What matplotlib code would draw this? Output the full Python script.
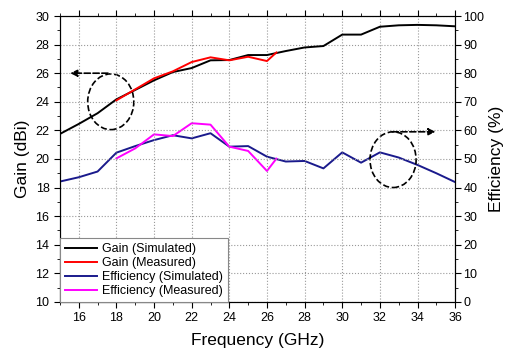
import matplotlib
matplotlib.use("Agg")
import matplotlib.pyplot as plt
from matplotlib.patches import Ellipse
from matplotlib.ticker import MultipleLocator

plt.rcParams['font.family'] = ['Liberation Sans', 'DejaVu Sans']

freq_sim = [15, 16, 17, 18, 19, 20, 21, 22, 23, 24, 25, 26, 27, 28, 29, 30, 31, 32, 33, 34, 35, 36]
gain_sim = [21.75, 22.45, 23.2, 24.17, 24.83, 25.5, 26.08, 26.36, 26.9, 26.92, 27.27, 27.27,
            27.55, 27.8, 27.9, 28.7, 28.7, 29.25, 29.35, 29.38, 29.35, 29.28]
eff_sim = [42.1, 43.6, 45.6, 52.2, 54.5, 56.6, 58.3, 57.2, 59.0, 54.3, 54.5, 50.8,
           49.1, 49.3, 46.7, 52.3, 48.7, 52.3, 50.5, 47.9, 45.0, 41.9]

freq_meas = [18, 19, 20, 21, 22, 23, 24, 25, 26, 26.5]
gain_meas = [24.1, 24.87, 25.64, 26.13, 26.78, 27.11, 26.9, 27.15, 26.85, 27.45]
eff_meas = [50.2, 53.7, 58.6, 58.0, 62.5, 62.0, 54.3, 52.8, 45.8, 50.1]

fig = plt.figure(figsize=(5.08, 3.56), dpi=100)
ax = fig.add_axes([0.118, 0.152, 0.778, 0.803])
ax2 = ax.twinx()

l1, = ax.plot(freq_sim, gain_sim, color='black', lw=1.4, label='Gain (Simulated)')
l2, = ax.plot(freq_meas, gain_meas, color='red', lw=1.4, label='Gain (Measured)')
l3, = ax2.plot(freq_sim, eff_sim, color='#1a1a8c', lw=1.4, label='Efficiency (Simulated)')
l4, = ax2.plot(freq_meas, eff_meas, color='#ff00ff', lw=1.4, label='Efficiency (Measured)')

ax.set_xlim(15, 36)
ax.set_ylim(10, 30)
ax2.set_ylim(0, 100)
ax.xaxis.set_major_locator(MultipleLocator(2))
ax.xaxis.set_minor_locator(MultipleLocator(1))
ax.yaxis.set_major_locator(MultipleLocator(2))
ax.yaxis.set_minor_locator(MultipleLocator(1))
ax2.yaxis.set_major_locator(MultipleLocator(10))
ax2.yaxis.set_minor_locator(MultipleLocator(5))

ax.grid(True, which='major', color='#999999', linestyle=':', lw=0.8)
ax.tick_params(axis='both', which='major', direction='out', length=4, labelsize=9, top=True)
ax.tick_params(axis='both', which='minor', direction='out', length=2.5, top=True)
ax.tick_params(axis='x', which='both', top=True)
ax2.tick_params(axis='y', which='major', direction='out', length=4, labelsize=9, pad=2)
ax2.tick_params(axis='y', which='minor', direction='out', length=2.5)

ax.set_xlabel('Frequency (GHz)', fontsize=12.5, labelpad=6)
ax.set_ylabel('Gain (dBi)', fontsize=12.5, labelpad=4)
ax2.set_ylabel('Efficiency (%)', fontsize=12.5, labelpad=3)

# annotation ellipses and arrows
ax.add_patch(Ellipse((17.7, 24.0), 2.45, 3.9, fill=False, ls='--', lw=1.2, color='black'))
ax.annotate('', xy=(15.4, 26.0), xytext=(17.7, 26.0),
            arrowprops=dict(arrowstyle='-|>', ls='--', lw=1.2, color='black', mutation_scale=10))
ax.add_patch(Ellipse((32.7, 19.95), 2.45, 3.9, fill=False, ls='--', lw=1.2, color='black'))
ax.annotate('', xy=(35.1, 21.9), xytext=(32.5, 21.9),
            arrowprops=dict(arrowstyle='-|>', ls='--', lw=1.2, color='black', mutation_scale=10))

leg = ax.legend(handles=[l1, l2, l3, l4], loc='lower left', bbox_to_anchor=(0, 0),
                borderaxespad=0.0, fontsize=9, fancybox=False, framealpha=1,
                edgecolor='#888888', handlelength=2.6, labelspacing=0.15,
                borderpad=0.4, handletextpad=0.4)
leg.get_frame().set_linewidth(0.8)
ax.set_zorder(ax2.get_zorder() + 1)
ax.patch.set_visible(False)

fig.savefig('out.png', dpi=100)
